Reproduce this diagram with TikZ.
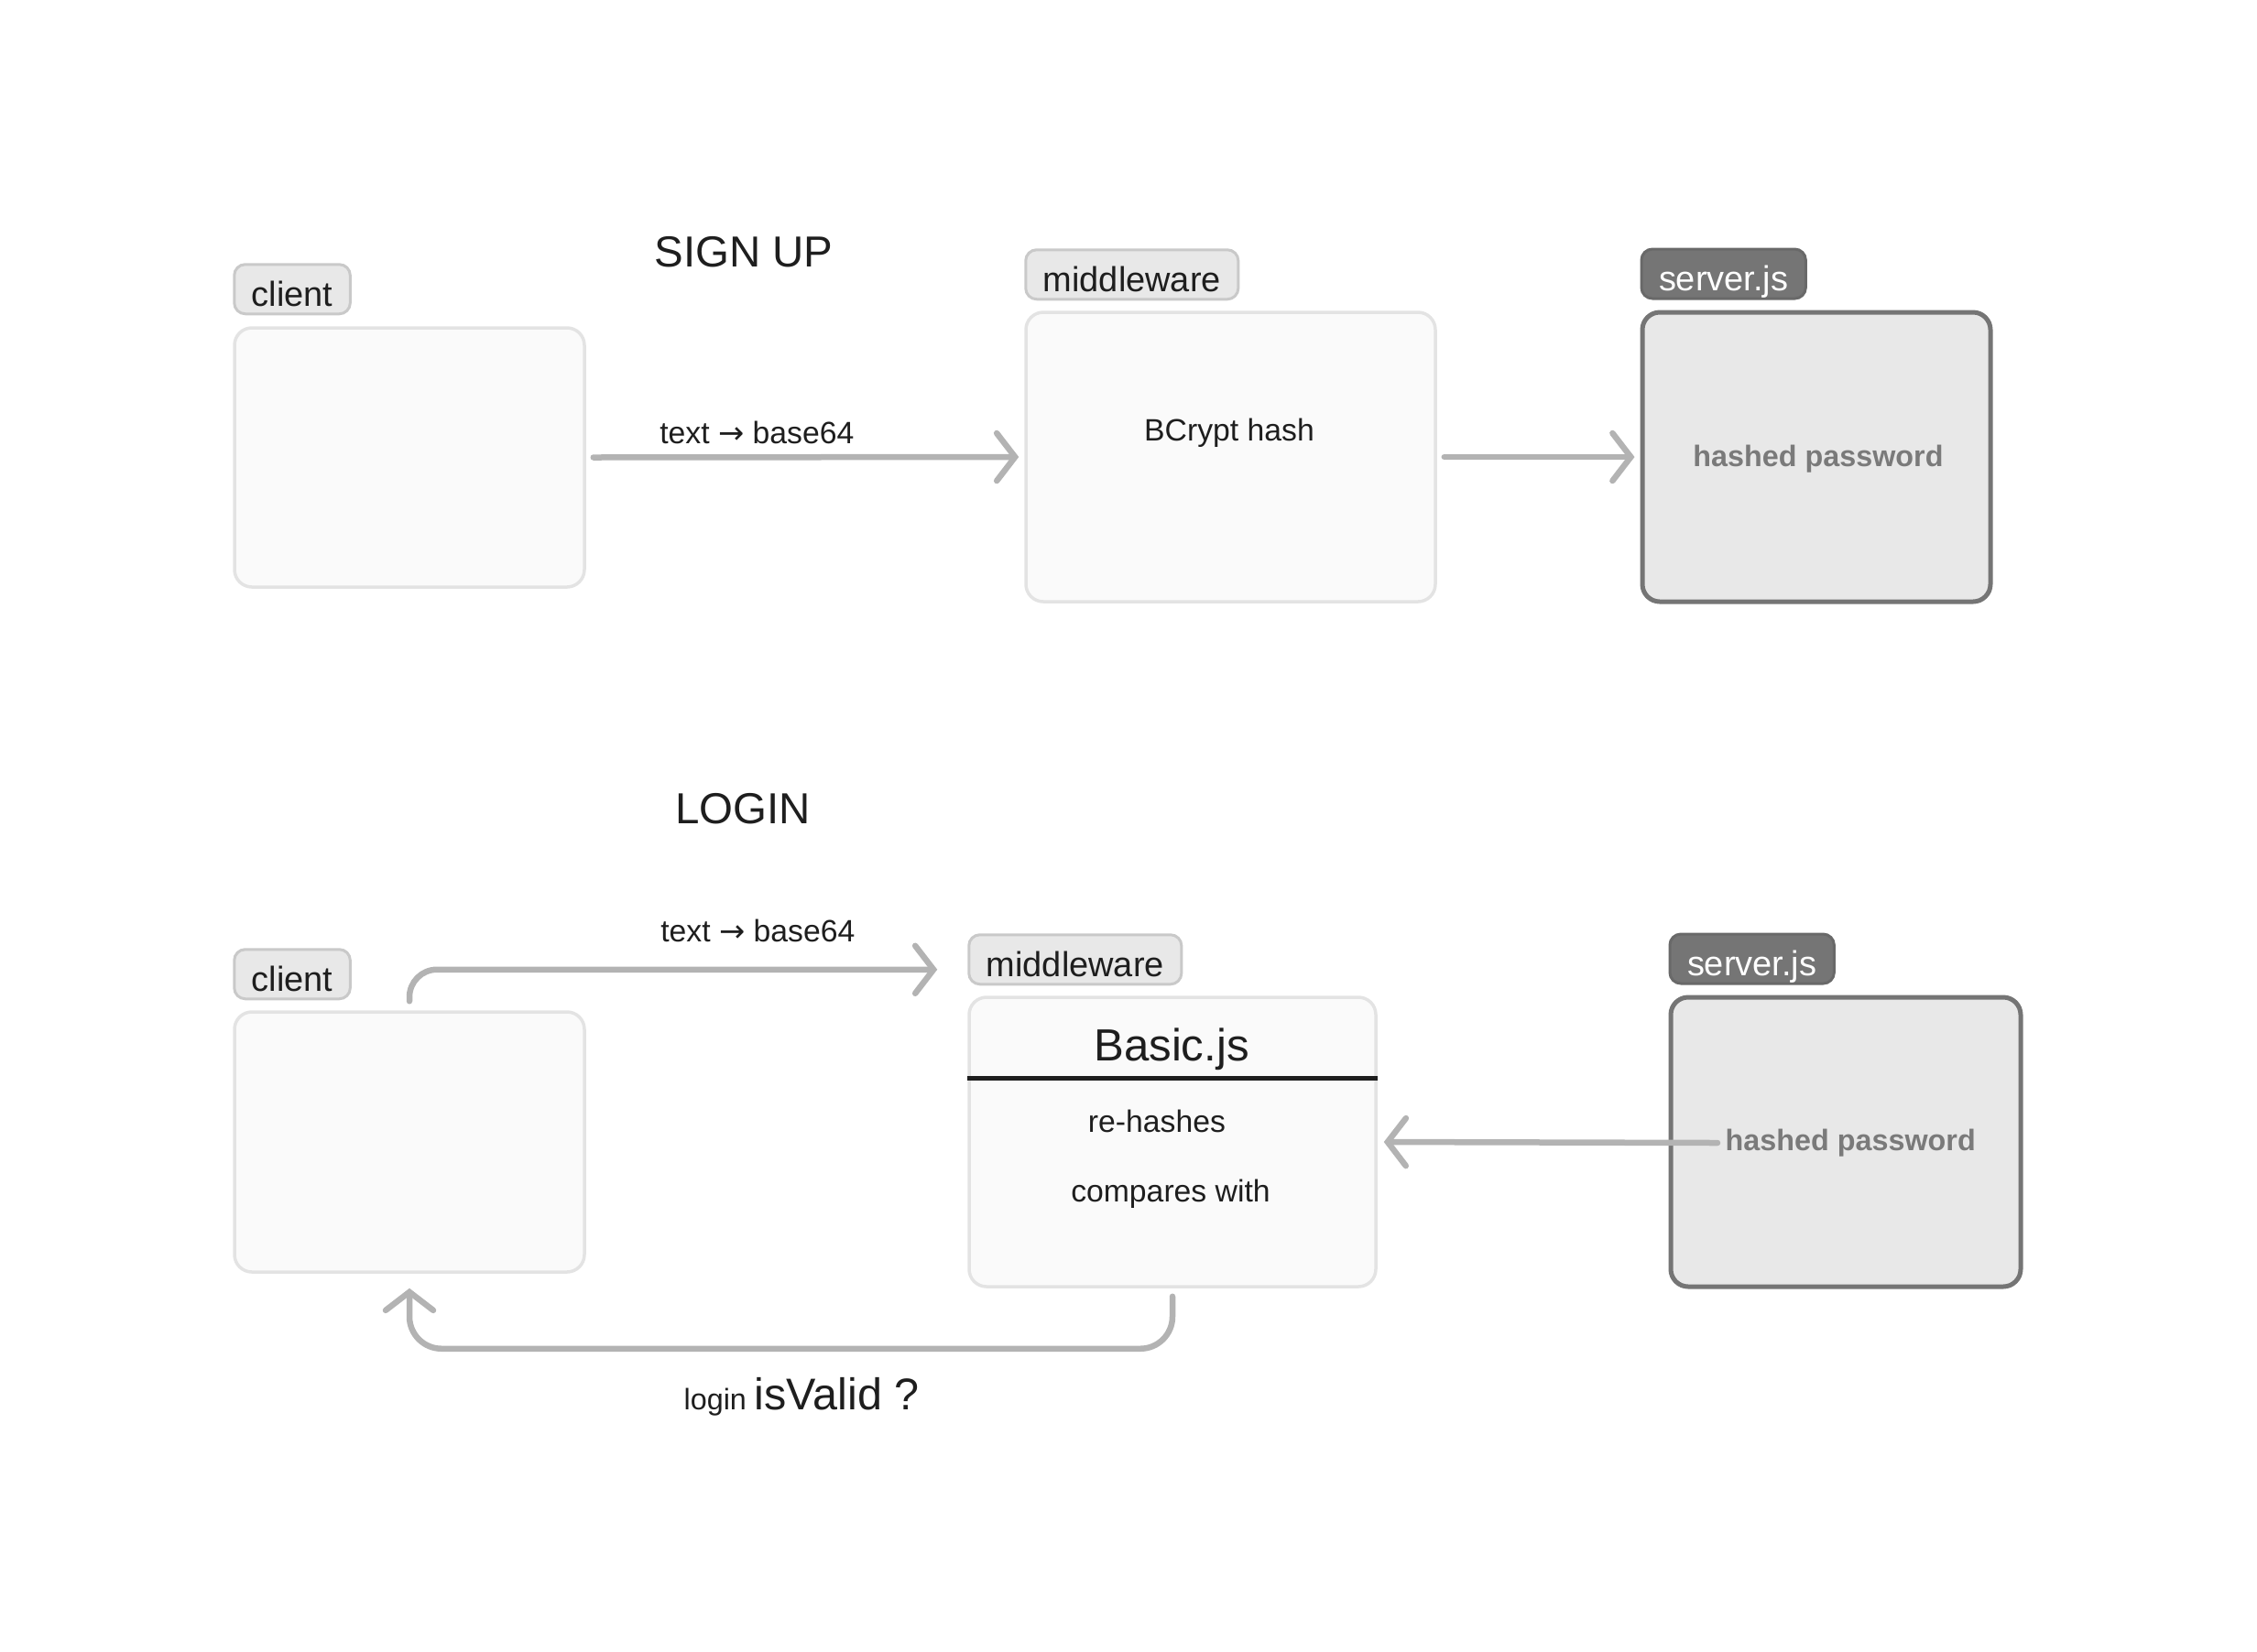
\documentclass[tikz,border=0pt]{standalone}
\usepackage{fontspec}
\setmainfont{Liberation Sans}
\newfontfamily\arrowfont{DejaVu Sans}
\usetikzlibrary{arrows.meta, positioning}
\definecolor{boxfill}{HTML}{FAFAFA}
\definecolor{boxline}{HTML}{E3E3E3}
\definecolor{tagfill}{HTML}{E8E8E8}
\definecolor{tagline}{HTML}{C9C9C9}
\definecolor{srvdark}{HTML}{757575}
\definecolor{srvfill}{HTML}{E8E8E8}
\definecolor{arrowgray}{HTML}{B3B3B3}
\definecolor{inkblack}{HTML}{1E1E1E}
\definecolor{hashgray}{HTML}{7A7A7A}

\begin{document}
\begin{tikzpicture}[
    panel/.style={rectangle, rounded corners=0.19cm, draw=boxline, fill=boxfill, line width=0.035cm},
    srvpanel/.style={rectangle, rounded corners=0.19cm, draw=srvdark, fill=srvfill, line width=0.05cm},
    nametag/.style={rectangle, rounded corners=0.12cm, draw=tagline, fill=tagfill, line width=0.03cm, minimum height=0.54cm, inner xsep=0.19cm, inner ysep=0pt, text height=10.4pt, text depth=0pt, text=inkblack, font=\fontsize{10.8}{12}\selectfont},
    srvtag/.style={nametag, draw=srvdark!90!black, fill=srvdark, text=white},
    arrow/.style={-{Straight Barb[length=0.2cm, width=0.52cm, line cap=round]}, draw=arrowgray, line width=0.065cm, line cap=round},
    lbl/.style={text=inkblack, font=\fontsize{9.6}{11}\selectfont},
    heading/.style={text=inkblack, font=\fontsize{13.5}{16}\selectfont},
    hashtxt/.style={text=hashgray, font=\fontsize{9.2}{11}\selectfont\bfseries}
]
\useasboundingbox (0,0) rectangle (24.64,-18.03);

% sign up
\node[heading] (signup) at (8.12,-2.75) {SIGN UP};
\node[panel, minimum width=3.82cm, minimum height=2.83cm] (cbox1) at (4.47,-4.995) {};
\node[panel, minimum width=4.47cm, minimum height=3.16cm] (mbox1) at (13.435,-4.99) {};
\node[srvpanel, minimum width=3.80cm, minimum height=3.16cm] (sbox1) at (19.83,-4.99) {};
\node[nametag, above right=0.12cm and 0cm of cbox1.north west] (ctag1) {client};
\node[nametag, above right=0.11cm and 0cm of mbox1.north west] (mtag1) {middleware};
\node[srvtag, above right=0.11cm and 0cm of sbox1.north west] (stag1) {server.js};
\node[lbl] (bcrypt) at (13.42,-4.73) {BCrypt hash};
\node[hashtxt] (hp1) at (19.85,-5.01) {hashed password};

\draw[arrow, shorten <=0.08cm, shorten >=0.06cm] (cbox1.east) -- node[lbl, pos=0.39, yshift=0.27cm] {text {\arrowfont →} base64} (mbox1.west);
\draw[arrow, shorten <=0.08cm, shorten >=0.06cm] (mbox1.east) -- (sbox1.west);

% login
\node[heading] (login) at (8.11,-8.83) {LOGIN};
\node[panel, minimum width=3.82cm, minimum height=2.84cm] (cbox2) at (4.47,-12.47) {};
\node[panel, minimum width=4.44cm, minimum height=3.16cm] (mbox2) at (12.80,-12.47) {};
\node[srvpanel, minimum width=3.82cm, minimum height=3.16cm] (sbox2) at (20.15,-12.47) {};
\node[nametag, above right=0.11cm and 0cm of cbox2.north west] (ctag2) {client};
\node[nametag, above right=0.11cm and 0cm of mbox2.north west] (mtag2) {middleware};
\node[srvtag, above right=0.11cm and 0cm of sbox2.north west] (stag2) {server.js};

\node[text=inkblack, font=\fontsize{14}{17}\selectfont] (basic) at (12.79,-11.46) {Basic.js};
\draw[inkblack, line width=0.055cm] ([yshift=-0.9cm]mbox2.north west) -- ([yshift=-0.9cm]mbox2.north east);
\node[lbl] (rehash) at (12.63,-12.24) {re-hashes};
\node[lbl] (compare) at (12.78,-13.04) {compares with};
\node[hashtxt, anchor=west, inner sep=0.08cm] (hp2) at (18.75,-12.48) {hashed password};

\draw[arrow, rounded corners=0.3cm] ([yshift=0.1cm]cbox2.north) |- node[lbl, pos=0.83, yshift=0.42cm] {text {\arrowfont →} base64} ([xshift=-0.33cm, yshift=-0.11cm]mtag2.west);
\draw[arrow, shorten >=0.07cm] (hp2.west) -- (mbox2.east);
\draw[arrow, rounded corners=0.35cm] ([yshift=-0.09cm]mbox2.south) -- ++(0,-0.57) -| node[text=inkblack, pos=0.243, yshift=-0.53cm] {\fontsize{9.2}{11}\selectfont login \fontsize{13.8}{16}\selectfont isValid ?} ([yshift=-0.16cm]cbox2.south);
\end{tikzpicture}
\end{document}
